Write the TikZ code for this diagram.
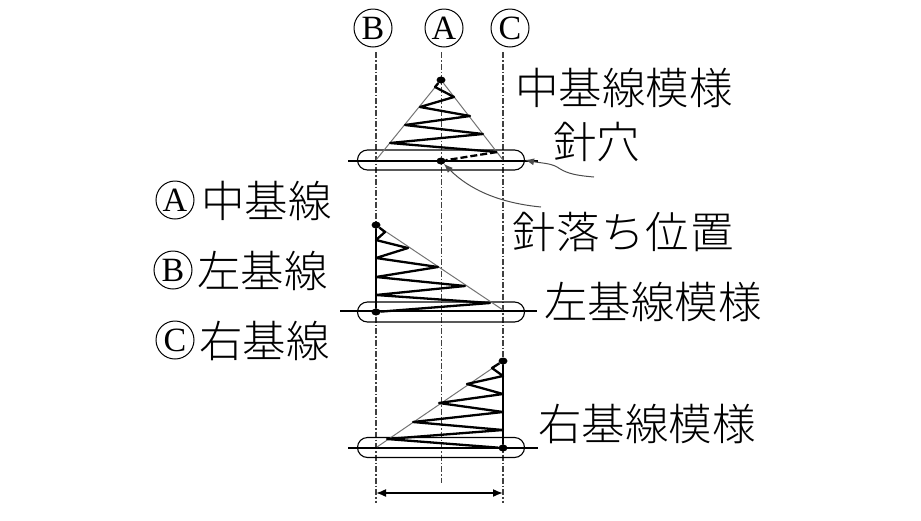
\documentclass[tikz,border=0pt]{standalone}
\usepackage{fontspec}
\usetikzlibrary{arrows.meta,calc,positioning,shapes.misc,shapes.geometric}
\setmainfont{Noto Sans CJK JP Light}
\newfontfamily\letterfont{Liberation Serif}
\tikzset{
  caption/.style={font=\fontsize{43.5}{44}\selectfont,inner sep=0pt,anchor=west},
  ringlet/.style={draw,circle,line width=1pt,minimum size=38pt,inner sep=0pt,font=\fontsize{34}{34}\letterfont},
  guide/.style={black!75,line width=1.3pt,dash pattern=on 6pt off 2pt on 1.5pt off 2pt},
  stitch/.style={line width=2.3pt,line join=round},
  edge/.style={black!55,line width=1pt},
  base/.style={line width=1.1pt},
  pill/.style={draw,rounded rectangle,line width=1.1pt,minimum width=167pt,minimum height=20pt,inner sep=0pt},
  needle/.style={ellipse,fill=black,inner sep=0pt,minimum width=9pt,minimum height=7pt},
}
\begin{document}
\begin{tikzpicture}[x=1pt,y=-1pt,>=Latex]
    \useasboundingbox (0,0) rectangle (921,520);
    % column heads
    \node[ringlet] (headB) at (373,28) {B};
    \node[ringlet] (headA) at (444,28) {A};
    \node[ringlet] (headC) at (510,28) {C};
    \coordinate (topB) at (376,52);
    \coordinate (topA) at (441.5,52);
    \coordinate (topC) at (503,52);
    \coordinate (endB) at (376,503);
    \coordinate (endA) at (441.5,483);
    \coordinate (endC) at (503,503);
    \draw[guide] (topB) -- (endB);
    \draw[guide] (topA) -- (endA);
    \draw[guide] (topC) -- (endC);

    % captions
    \node[caption] (capMid) at (515,88) {中基線模様};
    \node[caption] (capHole) at (553,142) {針穴};
    \node[caption] (capDrop) at (512,232) {針\kern1pt 落\kern1pt ち\kern1pt 位\kern1pt 置};
    \node[caption] (capLeft) at (544,302) {左基線模様};
    \node[caption] (capRight) at (538,424) {右基線模様};
    \node[ringlet] (ringA) at (175,200) {A};
    \node[ringlet] (ringB) at (173,270) {B};
    \node[ringlet] (ringC) at (175,340) {C};
    \node[caption] (keyA) at (201,201) {中基線};
    \node[caption] (keyB) at (197,271) {左基線};
    \node[caption] (keyC) at (199,341) {右基線};

    % centre pattern
    \node[pill] (pillMid) at (441,160) {};
    \node[needle] (tipMid) at (441,80) {};
    \node[needle] (dropMid) at (441,161) {};
    \draw[base] (348,161) -- (538,161);
    \draw[edge] (376,160) -- (tipMid) -- (503,160);
    \draw[stitch] (tipMid) -- (435,87) -- (454,97) -- (420,107) -- (470,116) -- (405,125) -- (483,134) -- (390,143) -- (497,152);
    \draw[stitch,dash pattern=on 7pt off 3pt] (497,152) -- (dropMid);

    % left pattern
    \node[pill] (pillLeft) at (441,312) {};
    \node[needle] (tipLeft) at (376,225) {};
    \node[needle] (dropLeft) at (376,312) {};
    \draw[base] (340,311) -- (537,311);
    \draw[edge] (tipLeft) -- (503,310);
    \draw[stitch] (tipLeft) -- (385,232) -- (376,240) -- (408,248) -- (376,258) -- (438,267) -- (376,277) -- (465,286) -- (376,295) -- (490,303) -- (dropLeft);
    \draw[line width=1.2pt] (tipLeft) -- (dropLeft);

    % right pattern
    \node[pill] (pillRight) at (441,447.5) {};
    \node[needle] (tipRight) at (503,361) {};
    \node[needle] (dropRight) at (503,448) {};
    \draw[base] (348,448) -- (538,448);
    \draw[edge] (tipRight) -- (377,447);
    \draw[stitch] (tipRight) -- (492,368) -- (503,376) -- (467,384) -- (503,394) -- (439,403) -- (503,412) -- (413,422) -- (503,430) -- (387,439) -- (dropRight);
    \draw[line width=1.2pt] (tipRight) -- (dropRight);

    % pointers
    \coordinate (holeTail) at (594,177);
    \coordinate (dropTail) at (541,207);
    \draw[-{Latex[length=9pt,width=7pt]},black!70,line width=1pt] (holeTail) .. controls (570,175) and (565,172) .. (557,167) .. controls (550,163) and (540,163) .. (pillMid.east);
    \draw[-{Latex[length=9pt,width=7pt]},black!70,line width=1pt] (dropTail) .. controls (500,203) and (470,190) .. (dropMid);

    % width
    \coordinate (spanB) at (376,493);
    \coordinate (spanC) at (503,493);
    \draw[{Latex[length=10pt,width=8pt]}-{Latex[length=10pt,width=8pt]},line width=1.6pt] (spanB) -- (spanC);
\end{tikzpicture}
\end{document}
